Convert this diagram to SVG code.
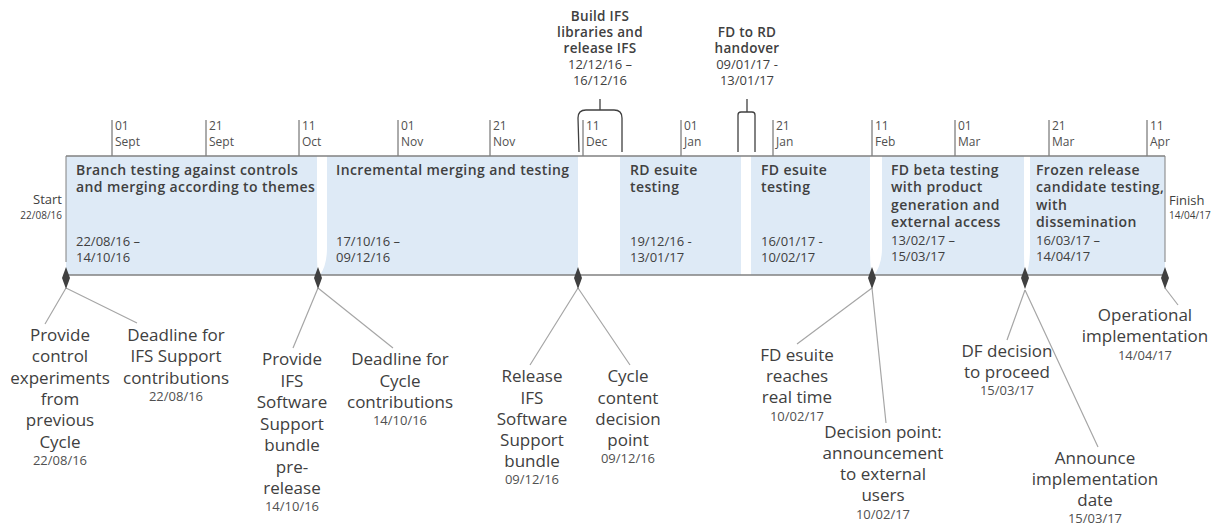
<svg xmlns="http://www.w3.org/2000/svg" width="1216" height="527" viewBox="0 0 1216 527">
<style>
text{font-family:"Open Sans","Noto Sans","Liberation Sans",sans-serif;fill:#404040}
.ax{font-size:12px;fill:#505050}
.tick{stroke:#595959;stroke-width:1}
.frame{stroke:#808080;stroke-width:1.5;fill:none}
.bar{fill:#deeaf6}
.bt{font-size:14px;font-weight:600;letter-spacing:0.4px}
.bd{font-size:13px}
.ms{font-size:17px;text-anchor:middle}
.md{font-size:13px;text-anchor:middle;fill:#505050}
.ln{stroke:#a6a6a6;stroke-width:1.2;fill:none}
.br{stroke:#404040;stroke-width:1.3;fill:none}
.dm{fill:#404040}
.ct{text-anchor:middle}
.ht{font-size:13.5px;font-weight:600;letter-spacing:0.3px;text-anchor:middle}
.hd{font-size:13px;text-anchor:middle}
</style>
<defs>
<polygon id="dia" points="0,-11 4,0 0,11 -4,0"/>
</defs>
<g id="axis">
<line class="tick" x1="112" y1="120" x2="112" y2="156"/><text class="ax" x="115" y="130">01</text><text class="ax" x="115" y="146">Sept</text>
<line class="tick" x1="206" y1="120" x2="206" y2="156"/><text class="ax" x="209" y="130">21</text><text class="ax" x="209" y="146">Sept</text>
<line class="tick" x1="299" y1="120" x2="299" y2="156"/><text class="ax" x="302" y="130">11</text><text class="ax" x="302" y="146">Oct</text>
<line class="tick" x1="398" y1="120" x2="398" y2="156"/><text class="ax" x="401" y="130">01</text><text class="ax" x="401" y="146">Nov</text>
<line class="tick" x1="490" y1="120" x2="490" y2="156"/><text class="ax" x="493" y="130">21</text><text class="ax" x="493" y="146">Nov</text>
<line class="tick" x1="583" y1="120" x2="583" y2="156"/><text class="ax" x="586" y="130">11</text><text class="ax" x="586" y="146">Dec</text>
<line class="tick" x1="681" y1="120" x2="681" y2="156"/><text class="ax" x="684" y="130">01</text><text class="ax" x="684" y="146">Jan</text>
<line class="tick" x1="773" y1="120" x2="773" y2="156"/><text class="ax" x="776" y="130">21</text><text class="ax" x="776" y="146">Jan</text>
<line class="tick" x1="872" y1="120" x2="872" y2="156"/><text class="ax" x="875" y="130">11</text><text class="ax" x="875" y="146">Feb</text>
<line class="tick" x1="955" y1="120" x2="955" y2="156"/><text class="ax" x="958" y="130">01</text><text class="ax" x="958" y="146">Mar</text>
<line class="tick" x1="1049" y1="120" x2="1049" y2="156"/><text class="ax" x="1052" y="130">21</text><text class="ax" x="1052" y="146">Mar</text>
<line class="tick" x1="1147" y1="120" x2="1147" y2="156"/><text class="ax" x="1150" y="130">11</text><text class="ax" x="1150" y="146">Apr</text>
</g>
<g id="bars">
<g id="bar1">
<path class="bar" d="M66,156 H317 V250 Q317,266 318,275 H66 Z"/>
<text class="bt" x="76" y="175">Branch testing against controls</text>
<text class="bt" x="76" y="192">and merging according to themes</text>
<text class="bd" x="76" y="246">22/08/16 –</text>
<text class="bd" x="76" y="262">14/10/16</text>
</g>
<g id="bar2">
<path class="bar" d="M327,156 H578 V275 H320 Q327,265 327,248 Z"/>
<text class="bt" x="336" y="175">Incremental merging and testing</text>
<text class="bd" x="336" y="246">17/10/16 –</text>
<text class="bd" x="336" y="262">09/12/16</text>
</g>
<g id="bar3">
<rect class="bar" x="620" y="156" width="121" height="119"/>
<text class="bt" x="630" y="175">RD esuite</text>
<text class="bt" x="630" y="192">testing</text>
<text class="bd" x="630" y="246">19/12/16 -</text>
<text class="bd" x="630" y="262">13/01/17</text>
</g>
<g id="bar4">
<path class="bar" d="M751,156 H870 V250 Q870,266 872,275 H751 Z"/>
<text class="bt" x="761" y="175">FD esuite</text>
<text class="bt" x="761" y="192">testing</text>
<text class="bd" x="761" y="246">16/01/17 -</text>
<text class="bd" x="761" y="262">10/02/17</text>
</g>
<g id="bar5">
<path class="bar" d="M882,156 H1024 V250 Q1024,266 1025,275 H874 Q882,265 882,248 Z"/>
<text class="bt" x="891" y="175">FD beta testing</text>
<text class="bt" x="891" y="192">with product</text>
<text class="bt" x="891" y="210">generation and</text>
<text class="bt" x="891" y="227">external access</text>
<text class="bd" x="891" y="245">13/02/17 –</text>
<text class="bd" x="891" y="261">15/03/17</text>
</g>
<g id="bar6">
<path class="bar" d="M1030,156 H1165 V275 H1026 Q1030,265 1030,248 Z"/>
<text class="bt" x="1036" y="175">Frozen release</text>
<text class="bt" x="1036" y="192">candidate testing,</text>
<text class="bt" x="1036" y="210">with</text>
<text class="bt" x="1036" y="227">dissemination</text>
<text class="bd" x="1036" y="245">16/03/17 –</text>
<text class="bd" x="1036" y="261">14/04/17</text>
</g>
</g>
<g id="frame">
<line class="frame" x1="66" y1="156" x2="1165" y2="156"/>
<line class="frame" x1="66" y1="275" x2="1165" y2="275"/>
<line class="frame" x1="66" y1="156" x2="66" y2="262" style="stroke-width:1"/>
<line class="frame" x1="1165" y1="156" x2="1165" y2="262" style="stroke-width:1"/>
</g>
<g id="start">
<text x="62" y="204" style="font-size:13px;text-anchor:end">Start</text>
<text x="62" y="219" style="font-size:10px;text-anchor:end">22/08/16</text>
</g>
<g id="finish">
<text x="1169" y="205" style="font-size:13px">Finish</text>
<text x="1169" y="219" style="font-size:10px">14/04/17</text>
</g>
<g id="connectors">
<path class="ln" d="M66,288 L45,324 M66,288 L137,323"/>
<path class="ln" d="M318,288 L293,348 M318,288 L393,348"/>
<path class="ln" d="M578,288 L530,365 M578,288 L630,365"/>
<path class="ln" d="M872,288 L797,344 M872,288 L886,423"/>
<path class="ln" d="M1025,290 L1007,340 M1025,290 L1098,447"/>
<path class="ln" d="M1165,288 L1178,305"/>
<path class="br" d="M600,110 V99"/>
<path class="br" d="M747,112 V99"/>
</g>
<g id="bracket-build">
<path class="br" d="M579,152 L578,118 Q578,110 586,110 H614 Q622,110 622,118 V152"/>
<text class="ht" x="600" y="21">Build IFS</text>
<text class="ht" x="600" y="37">libraries and</text>
<text class="ht" x="600" y="53">release IFS</text>
<text class="hd" x="600" y="69">12/12/16 –</text>
<text class="hd" x="600" y="85">16/12/16</text>
</g>
<g id="bracket-handover">
<path class="br" d="M738,152 V115 Q738,112 741,112 H752 Q755,112 755,115 V152"/>
<text class="ht" x="747" y="37">FD to RD</text>
<text class="ht" x="747" y="53">handover</text>
<text class="hd" x="747" y="69">09/01/17 -</text>
<text class="hd" x="747" y="85">13/01/17</text>
</g>
<g id="diamonds">
<use href="#dia" class="dm" x="66" y="278"/>
<use href="#dia" class="dm" x="318" y="278"/>
<use href="#dia" class="dm" x="578" y="278"/>
<use href="#dia" class="dm" x="872" y="278"/>
<use href="#dia" class="dm" x="1025" y="278"/>
<use href="#dia" class="dm" x="1165" y="278"/>
</g>
<g id="m-provide-control">
<text class="ms" x="60" y="341">Provide</text>
<text class="ms" x="60" y="362">control</text>
<text class="ms" x="60" y="384">experiments</text>
<text class="ms" x="60" y="405">from</text>
<text class="ms" x="60" y="426">previous</text>
<text class="ms" x="60" y="448">Cycle</text>
<text class="md" x="60" y="465">22/08/16</text>
</g>
<g id="m-deadline-ifs">
<text class="ms" x="176" y="341">Deadline for</text>
<text class="ms" x="176" y="362">IFS Support</text>
<text class="ms" x="176" y="384">contributions</text>
<text class="md" x="176" y="401">22/08/16</text>
</g>
<g id="m-provide-bundle">
<text class="ms" x="292" y="365">Provide</text>
<text class="ms" x="292" y="387">IFS</text>
<text class="ms" x="292" y="408">Software</text>
<text class="ms" x="292" y="430">Support</text>
<text class="ms" x="292" y="451">bundle</text>
<text class="ms" x="292" y="473">pre-</text>
<text class="ms" x="292" y="494">release</text>
<text class="md" x="292" y="511">14/10/16</text>
</g>
<g id="m-deadline-cycle">
<text class="ms" x="400" y="365">Deadline for</text>
<text class="ms" x="400" y="387">Cycle</text>
<text class="ms" x="400" y="408">contributions</text>
<text class="md" x="400" y="425">14/10/16</text>
</g>
<g id="m-release-bundle">
<text class="ms" x="532" y="382">Release</text>
<text class="ms" x="532" y="404">IFS</text>
<text class="ms" x="532" y="425">Software</text>
<text class="ms" x="532" y="446">Support</text>
<text class="ms" x="532" y="467">bundle</text>
<text class="md" x="532" y="484">09/12/16</text>
</g>
<g id="m-cycle-content">
<text class="ms" x="628" y="382">Cycle</text>
<text class="ms" x="628" y="404">content</text>
<text class="ms" x="628" y="425">decision</text>
<text class="ms" x="628" y="446">point</text>
<text class="md" x="628" y="463">09/12/16</text>
</g>
<g id="m-fd-realtime">
<text class="ms" x="797" y="361">FD esuite</text>
<text class="ms" x="797" y="382">reaches</text>
<text class="ms" x="797" y="403">real time</text>
<text class="md" x="797" y="421">10/02/17</text>
</g>
<g id="m-decision-point">
<text class="ms" x="883" y="438">Decision point:</text>
<text class="ms" x="883" y="459">announcement</text>
<text class="ms" x="883" y="480">to external</text>
<text class="ms" x="883" y="501">users</text>
<text class="md" x="883" y="519">10/02/17</text>
</g>
<g id="m-df-decision">
<text class="ms" x="1007" y="357">DF decision</text>
<text class="ms" x="1007" y="378">to proceed</text>
<text class="md" x="1007" y="395">15/03/17</text>
</g>
<g id="m-announce">
<text class="ms" x="1095" y="464">Announce</text>
<text class="ms" x="1095" y="485">implementation</text>
<text class="ms" x="1095" y="506">date</text>
<text class="md" x="1095" y="523">15/03/17</text>
</g>
<g id="m-operational">
<text class="ms" x="1145" y="321">Operational</text>
<text class="ms" x="1145" y="342">implementation</text>
<text class="md" x="1145" y="360">14/04/17</text>
</g>
</svg>
